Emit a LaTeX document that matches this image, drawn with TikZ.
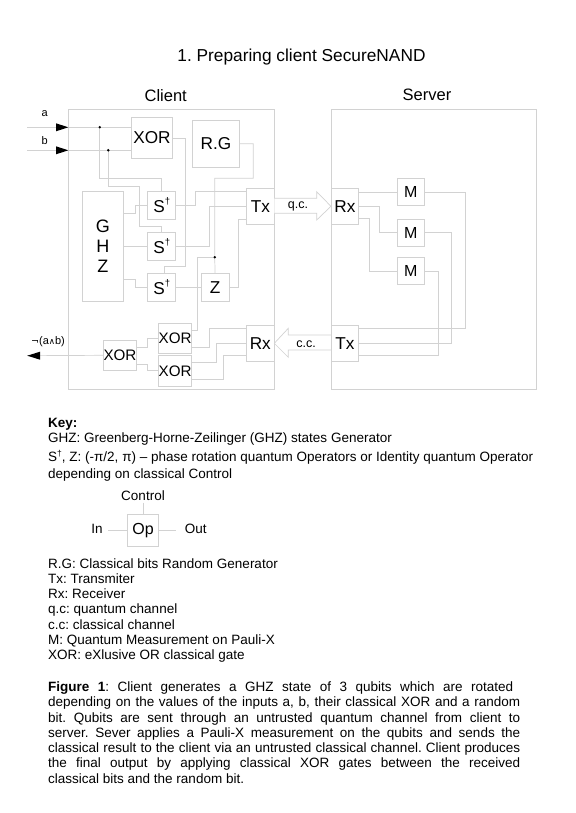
\documentclass[tikz,border=0pt]{standalone}
\usepackage{fontspec}
\setmainfont{Liberation Sans}
\newfontfamily\djv{DejaVu Sans}
\usetikzlibrary{arrows.meta}
\definecolor{wire}{HTML}{D2D2D2}
\newcommand{\dgr}[2]{\raisebox{#2}{\fontsize{#1}{#1}\selectfont †}}
\tikzset{
  bx/.style={draw=wire,line width=0.7pt,fill=none,inner sep=0pt,align=center,font=\fontsize{17.2}{19}\selectfont},
  smallbx/.style={bx,font=\fontsize{15.2}{18}\selectfont},
  w/.style={draw=wire,line width=0.7pt},
  dot/.style={circle,fill=black,inner sep=0pt,minimum size=2.8pt},
  lab/.style={inner sep=0pt,font=\fontsize{11}{13}\selectfont},
  keyline/.style={anchor=base west,inner sep=0pt,font=\fontsize{13.5}{15}\selectfont\frenchspacing},
  hollow/.style={draw=wire,line width=0.7pt,fill=white}
}
\begin{document}
\begin{tikzpicture}[x=1pt,y=-1pt]
\useasboundingbox[fill=white] (0,0) rectangle (575,813);
% titles
\node[anchor=base,inner sep=0pt,font=\fontsize{17.3}{20}\selectfont\frenchspacing] (title) at (301.5,61.7) {1. Preparing client SecureNAND};
\node[anchor=base,inner sep=0pt,font=\fontsize{16.5}{20}\selectfont] (clientT) at (165.7,102) {Client};
\node[anchor=base,inner sep=0pt,font=\fontsize{16.5}{20}\selectfont] (serverT) at (427,101) {Server};
% frames
\node[bx,minimum width=205.7pt,minimum height=279.7pt] (client) at (171.2,249.2) {};
\node[bx,minimum width=205.4pt,minimum height=280pt] (server) at (434,249.3) {};
% client boxes
\node[bx,minimum width=41.4pt,minimum height=41pt] (xorA) at (152,137.8) {XOR};
\node[bx,minimum width=46.6pt,minimum height=47pt] (rg) at (216,143.8) {R.G};
\node[bx,minimum width=41pt,minimum height=110pt,font=\fontsize{18}{19}\selectfont] (ghz) at (102.8,246.3) {G\\[0.6pt]H\\[0.6pt]Z};
\node[bx,minimum width=28pt,minimum height=28pt] (s1) at (161.7,205.3) {S\dgr{9.5}{0.5em}};
\node[bx,minimum width=28pt,minimum height=28pt] (s2) at (161.7,246.3) {S\dgr{9.5}{0.5em}};
\node[bx,minimum width=28pt,minimum height=28pt] (s3) at (161.7,287.3) {S\dgr{9.5}{0.5em}};
\node[bx,minimum width=27.7pt,minimum height=28pt] (z) at (215.1,287.3) {Z};
\node[bx,minimum width=27.3pt,minimum height=36pt] (txC) at (260.3,206.3) {Tx};
\node[bx,minimum width=27.3pt,minimum height=36pt] (rxC) at (260.3,343.3) {Rx};
\node[smallbx,minimum width=33pt,minimum height=30pt] (xorB) at (175.2,338.3) {XOR};
\node[smallbx,minimum width=33pt,minimum height=30.3pt] (xorC) at (175.2,370.8) {XOR};
\node[smallbx,minimum width=33.4pt,minimum height=30pt] (xorD) at (120,355.3) {XOR};
% server boxes
\node[bx,minimum width=27.4pt,minimum height=36pt] (rxS) at (345,206.3) {Rx};
\node[bx,minimum width=27.4pt,minimum height=36pt] (txS) at (345,343.3) {Tx};
\node[bx,minimum width=27.7pt,minimum height=27.4pt,font=\fontsize{16}{18}\selectfont] (m1) at (410.8,192) {M};
\node[bx,minimum width=27.7pt,minimum height=27.7pt,font=\fontsize{16}{18}\selectfont] (m2) at (410.8,232.8) {M};
\node[bx,minimum width=27.7pt,minimum height=27.4pt,font=\fontsize{16}{18}\selectfont] (m3) at (410.8,271) {M};
% inputs
\coordinate (inA) at (27.3,127.3);
\coordinate (inB) at (27.3,150.3);
\coordinate (outEnd) at (27.3,355.7);
\node[dot] (dA) at (99.7,127.3) {};
\node[dot] (dB) at (108.3,150.3) {};
\node[dot] (dC) at (214.7,257.3) {};
\draw[w] (inA) -- (dA) -- (xorA.west |- dA);
\draw[w] (inB) -- (dB) -- (xorA.west |- dB);
\node[lab] (la) at (44.7,114) {a};
\node[lab] (lb) at (44.7,141) {b};
\fill (56,123.3) -- (68.3,127.3) -- (56,131.3) -- cycle;
\fill (56,146.3) -- (68.3,150.3) -- (56,154.3) -- cycle;
% controls
\draw[w] (dA) |- (161.7,178.3) -- (s1.north);
\draw[w] (dB) |- (139.7,186.3) |- (161.7,226.3) -- (s2.north);
\draw[w] ([yshift=-0.5pt]xorA.east) -- ++(12.3,0) |- (164,266.7) -- (164,273.3);
\draw[w] (rg.east) -- (253.3,143.8) |- (214.7,178.3) -- (dC) -- (z.north);
\draw[w] (dC) -| (197,330) -- (xorB.east |- 0,330);
% GHZ outputs
\draw[w] (ghz.east |- 0,213.3) -- (135.3,213.3) |- (s1.west);
\draw[w] (ghz.east |- s2.west) -- (s2.west);
\draw[w] (ghz.east |- 0,279.3) -- (135.3,279.3) |- (s3.west);
% to Tx
\draw[w] (s1.east) -- (195.7,205.3) |- (txC.north west |- 0,191.5);
\draw[w] (s2.east) -- (209.7,246.3) |- (txC.west);
\draw[w] (s3.east) -- (z.west);
\draw[w] (z.east) -- (238.3,287.3) |- (txC.west |- 0,219.3);
% Rx to XOR
\draw[w] (xorB.east |- 0,347.3) -- (209.3,347.3) |- (rxC.west |- 0,328.3);
\draw[w] (xorC.east |- 0,362.3) -- (216.3,362.3) |- (rxC.west |- 0,343.3);
\draw[w] (xorC.east |- 0,379) -- (223,379) |- (rxC.west |- 0,355.7);
\draw[w] (xorD.east |- 0,347.3) -- (147,347.3) |- (xorB.west);
\draw[w] (xorD.east |- 0,364.3) -- (147,364.3) |- (xorC.west |- 0,370.3);
\draw[w] (xorD.west) -- (outEnd);
\fill (27.3,355.7) -- (40,351.7) -- (40,359.7) -- cycle;
\node[lab] (lnot) at (48,342) {{\djv\fontsize{9.5}{12}\selectfont ¬}(a{\djv\fontsize{8.5}{12}\selectfont ∧}b)};
% channels
\draw[hollow] (txC.east |- 0,198.3) -- (316.7,198.3) -- (316.7,191.7) -- (rxS.west) -- (316.7,220) -- (316.7,213.3) -- (txC.east |- 0,213.3);
\draw[hollow] (txS.west |- 0,335) -- (288.3,335) -- (288.3,328.3) -- (rxC.east) -- (288.3,357.3) -- (288.3,350) -- (txS.west |- 0,350);
\node[inner sep=0pt,font=\fontsize{12.5}{14}\selectfont] (qc) at (298,206) {q.c.};
\node[inner sep=0pt,font=\fontsize{12.5}{14}\selectfont] (cc) at (306,344) {c.c.};
% server wires
\draw[w] (rxS.east |- m1.west) -- (m1.west);
\draw[w] (rxS.east) -- (379,206.3) |- (m2.west);
\draw[w] (rxS.east |- 0,218.7) -- (369.7,218.7) |- (m3.west);
\draw[w] (m1.east) -- (465.3,192) |- (txS.east |- 0,328.3);
\draw[w] (m2.east) -- (451.7,232.8) |- (txS.east |- 0,343.3);
\draw[w] (m3.east) -- (438.3,271) |- (txS.east |- 0,355.3);
% key
\node[keyline] (k1) at (48,427.5) {\textbf{Key:}};
\node[keyline] (k2) at (48,442) {GHZ: Greenberg-Horne-Zeilinger (GHZ) states Generator};
\node[keyline] (k3) at (48,461.5) {S\dgr{8.5}{0.4em}, Z: (-π/2, π) – phase rotation quantum Operators or Identity quantum Operator};
\node[keyline] (k4) at (48,478) {depending on classical Control};
\node[bx,minimum width=31.4pt,minimum height=31.7pt,font=\fontsize{16}{18}\selectfont] (op) at (143,530.2) {Op};
\coordinate (opC) at (143,502.7);
\coordinate (opI) at (108,530.2);
\coordinate (opO) at (176,530.2);
\draw[w] (opC) -- (op.north);
\draw[w] (opI) -- (op.west);
\draw[w] (op.east) -- (opO);
\node[inner sep=0pt,font=\fontsize{13.5}{15}\selectfont] (tc) at (143,495.5) {Control};
\node[inner sep=0pt,font=\fontsize{13.5}{15}\selectfont] (tin) at (97,529) {In};
\node[inner sep=0pt,font=\fontsize{13.5}{15}\selectfont] (tout) at (195.7,529) {Out};
\node[keyline] (k5) at (48,568) {R.G: Classical bits Random Generator};
\node[keyline] (k6) at (48,583.3) {Tx: Transmiter};
\node[keyline] (k7) at (48,598.6) {Rx: Receiver};
\node[keyline] (k8) at (48,613.9) {q.c: quantum channel};
\node[keyline] (k9) at (48,629.2) {c.c: classical channel};
\node[keyline] (k10) at (48,644.5) {M: Quantum Measurement on Pauli-X};
\node[keyline] (k11) at (48,659.8) {XOR: eXlusive OR classical gate};
% caption
\node[anchor=north west,inner sep=0pt,text width=472pt,align=justify,font=\fontsize{13.5}{15.3}\selectfont\frenchspacing] (fig) at (48,681.5) {\textbf{Figure 1}: Client generates a GHZ state of 3 qubits which are rotated\kern7pt\linebreak depending on the values of the inputs a, b, their classical XOR and a random\linebreak bit. Qubits are sent through an untrusted quantum channel from client to\linebreak server. Sever applies a Pauli-X measurement on the qubits and sends the\linebreak classical result to the client via an untrusted classical channel. Client produces\linebreak the final output by applying classical XOR gates between the received\linebreak classical bits and the random bit.};
\end{tikzpicture}
\end{document}
